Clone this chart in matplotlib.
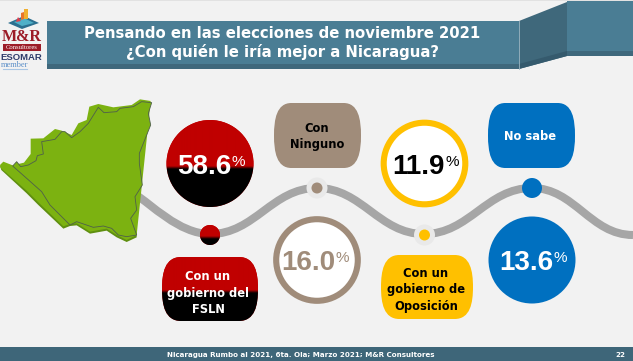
import matplotlib
matplotlib.use("Agg")
import matplotlib.pyplot as plt
import numpy as np
from matplotlib.patches import Circle, Polygon, PathPatch, Rectangle
from matplotlib.path import Path

# ---- data ----
categories = ["Con un\ngobierno del\nFSLN", "Con\nNinguno", "Con un\ngobierno de\nOposición", "No sabe"]
values = [58.6, 16.0, 11.9, 13.6]
title_lines = ["Pensando en las elecciones de noviembre 2021", "¿Con quién le iría mejor a Nicaragua?"]
footer = "Nicaragua Rumbo al 2021, 6ta. Ola; Marzo 2021; M&R Consultores"
page = "22"

BG = "#f2f2f2"
RED, BLACK, BROWN, YEL, BLUE = "#c00000", "#000000", "#a08c7a", "#ffc000", "#0070c0"
TEAL, TEAL_D, TEAL_F = "#4a7d94", "#3d6678", "#3e6679"
SANS = "Liberation Sans"
VERD = "DejaVu Sans"

fig = plt.figure(figsize=(6.33, 3.61), dpi=100, facecolor=BG)
ax = fig.add_axes([0, 0, 1, 1])
ax.set_xlim(0, 633); ax.set_ylim(361, 0); ax.axis("off")

def add(p):
    ax.add_patch(p); return p

# top hairline
add(Rectangle((0, 0), 633, 1, fc="#e2e2e2", ec="none"))

# header banner
add(Rectangle((567, 1), 66, 55, fc=TEAL, ec="none"))
add(Rectangle((567, 51), 66, 5, fc="#3f687c", ec="none"))
add(Polygon([(519, 21), (567, 2), (567, 56), (519, 69)], fc="#3f687b", ec="none"))
add(Polygon([(519, 64), (567, 51), (567, 56), (519, 69)], fc="#355a6d", ec="none"))
add(Rectangle((47, 21), 472, 48, fc=TEAL, ec="none"))
add(Rectangle((47, 64), 472, 5, fc="#3f687c", ec="none"))
ax.plot([519, 519], [21, 69], color="#9db8c4", lw=0.6)
for ln, y in zip(title_lines, [34, 52]):
    ax.text(282.5, y, ln, ha="center", va="center", color="white", family=VERD,
            weight="bold", fontsize=10.7)

# footer
add(Rectangle((0, 347), 633, 14, fc=TEAL_F, ec="none"))
ax.text(300.5, 355, footer, ha="center", va="center", color="white", family=VERD,
        weight="bold", fontsize=5.1)
ax.text(620, 355, page, ha="center", va="center", color="white", family=VERD,
        weight="bold", fontsize=5.1)

# logo
add(Polygon([(8, 23), (24, 16), (39, 23), (22, 29)], fc="#2b6f8f", ec="none"))
add(Polygon([(14, 22), (24, 18), (34, 23), (22, 26)], fc="#4fb0c8", ec="none"))
add(Polygon([(21, 20), (21, 13), (24, 12), (24, 19)], fc="#e8742c", ec="none"))
add(Polygon([(24, 19), (24, 9), (28, 9), (28, 19)], fc="#f0b030", ec="none"))
add(Polygon([(16, 22), (18, 17), (21, 21)], fc="#e23c4a", ec="none"))
ax.text(21.5, 37, "M&R", ha="center", va="center", color="#9c1c28", family="Liberation Serif",
        weight="bold", fontsize=11.5)
add(Rectangle((3, 44), 38, 7, fc="#9c1c28", ec="none"))
ax.text(22, 47.5, "Consultores", ha="center", va="center", color="white",
        family="Liberation Serif", fontsize=4.8)
ax.text(21.5, 57, "ESOMAR", ha="center", va="center", color="#2f3d6b", family=SANS,
        weight="bold", fontsize=6.8)
ax.text(15, 65, "member", ha="center", va="center", color="#5b8fc8", family="Liberation Serif",
        fontsize=6)
ax.plot([3, 27], [69, 69], color="#a9c6e4", lw=0.8)

# wave
w = [(136, 195), (210, 234), (317, 188), (424, 234), (532, 188), (633, 235)]
verts, codes = [w[0]], [Path.MOVETO]
for (x0, y0), (x1, y1) in zip(w[:-1], w[1:]):
    dx = (x1 - x0) * 0.42
    verts += [(x0 + dx, y0), (x1 - dx, y1), (x1, y1)]
    codes += [Path.CURVE4] * 3
verts[1] = (150, 203)
add(PathPatch(Path(verts, codes), fc="none", ec="#a6a6a6", lw=5.8, capstyle="butt"))

# map
def z(pts):
    return [(x / 3, 90 + y / 3) for x, y in pts]

shade = z([(0, 228), (4, 240), (80, 310), (115, 345), (190, 416), (210, 408), (230, 406),
           (270, 431), (320, 422), (350, 442), (380, 456), (410, 442), (410, 425), (300, 370), (100, 250)])
top = z([(0, 225), (10, 215), (38, 226), (72, 218), (92, 192), (92, 146), (130, 145), (165, 117),
         (185, 122), (215, 135), (235, 100), (260, 90), (268, 50), (295, 42), (340, 52), (395, 45),
         (420, 28), (452, 33), (410, 435), (380, 450), (350, 435), (320, 416), (270, 425), (230, 400),
         (210, 402), (190, 409), (115, 337), (80, 302), (2, 234)])
main = z([(38, 228), (50, 215), (62, 230), (85, 225), (108, 212), (112, 197), (130, 192), (125, 155),
          (165, 148), (185, 125), (195, 125), (215, 143), (240, 125), (265, 100), (295, 52), (312, 68),
          (350, 65), (360, 55), (400, 50), (425, 35), (455, 38), (445, 70), (452, 105), (418, 190),
          (418, 220), (427, 285), (405, 320), (410, 360), (392, 385), (410, 435), (380, 440),
          (355, 435), (335, 415), (310, 408), (280, 412), (230, 395), (210, 405), (150, 345),
          (125, 305), (80, 265)])
add(Polygon(shade, fc="#5f8f10", ec="none"))
add(Polygon(top, fc="#7cb211", ec="none"))
add(Polygon(main, fc="#7cb211", ec="#4f5f4c", lw=0.6, joinstyle="round"))

# helpers
def barrel(x0, x1, y0, y1):
    w_, h = x1 - x0, y1 - y0
    c, m = 0.2 * w_, (y0 + y1) / 2
    v = [(x0 + c, y0), (x1 - c, y0), (x1 - 0.03 * w_, y0), (x1, y0 + 0.25 * h), (x1, m),
         (x1, y0 + 0.75 * h), (x1 - 0.03 * w_, y1), (x1 - c, y1), (x0 + c, y1),
         (x0 + 0.03 * w_, y1), (x0, y0 + 0.75 * h), (x0, m),
         (x0, y0 + 0.25 * h), (x0 + 0.03 * w_, y0), (x0 + c, y0), (x0 + c, y0)]
    cd = [Path.MOVETO, Path.LINETO] + [Path.CURVE4] * 6 + [Path.LINETO] + [Path.CURVE4] * 6 + [Path.CLOSEPOLY]
    return Path(v, cd)

def two_tone(clip, y_split, x0, x1, y0, y1):
    # red above, black below, with a short soft edge
    grad = np.zeros((int(y1 - y0) * 2, 1, 3))
    ys = np.linspace(y0, y1, grad.shape[0])
    t = np.clip((ys - y_split) / 3.0, 0, 1)[:, None]
    red = np.array([0xc0, 0, 0]) / 255
    grad[:, 0, :] = red * (1 - t)
    im = ax.imshow(grad, extent=(x0, x1, y1, y0), aspect="auto", zorder=2)
    im.set_clip_path(clip)

def pct(x_num_right, y, val, color, size=20, psize=11):
    ax.text(x_num_right, y, f"{val:.1f}", ha="right", va="center_baseline", color=color, family=SANS,
            weight="bold", fontsize=size, zorder=5)
    ax.text(x_num_right + 0.5, y - 3.5, "%", ha="left", va="center_baseline", color=color, family=SANS,
            fontsize=psize, zorder=5)

# big circles
c1 = add(Circle((210, 163.5), 43.5, fc=RED, ec="none"))
two_tone(c1, 166, 166, 254, 120, 207)
c2 = add(Circle((317, 260), 40.8, fc="white", ec=BROWN, lw=4.4))
c3 = add(Circle((424.5, 163.5), 40.8, fc="white", ec=YEL, lw=4.4))
c4 = add(Circle((532, 260), 43.5, fc=BLUE, ec="none"))
ax.set_xlim(0, 633); ax.set_ylim(361, 0)

pct(231.5, 164, values[0], "white")
pct(335, 260, values[1], BROWN)
pct(444.5, 164, values[2], BLACK)
pct(553.5, 260, values[3], "white")

# nodes
n1 = add(Circle((210, 235), 10, fc=RED, ec="none"))
two_tone(n1, 236, 200, 220, 225, 245)
ax.set_xlim(0, 633); ax.set_ylim(361, 0)
add(Circle((317, 188), 10.5, fc="#e9e9e9", ec="none"))
add(Circle((317, 188), 5.5, fc=BROWN, ec="none"))
add(Circle((424.5, 235), 10.5, fc="#e9e9e9", ec="none"))
add(Circle((424.5, 235), 5.5, fc=YEL, ec="none"))
add(Circle((532, 188), 10, fc=BLUE, ec="none"))

# labels
p1 = add(PathPatch(barrel(162, 258, 257, 321), fc=RED, ec="none"))
two_tone(p1, 290, 162, 258, 257, 321)
ax.set_xlim(0, 633); ax.set_ylim(361, 0)
add(PathPatch(barrel(274, 361, 103, 168), fc=BROWN, ec="none"))
add(PathPatch(barrel(381, 473, 255, 319), fc=YEL, ec="none"))
add(PathPatch(barrel(488, 575, 103, 168), fc=BLUE, ec="none"))

label_fs = 8.3
def lbl(x, y, s, color):
    ax.text(x, y, s, ha="center", va="center", color=color, family=VERD, weight="bold",
            fontsize=label_fs, linespacing=1.33, zorder=5)
lbl(208, 293, categories[0], "white")
lbl(317, 136.5, categories[1], BLACK)
lbl(426, 290, categories[2], BLACK)
ax.text(530, 137, categories[3], ha="center", va="center", color="white", family=VERD,
        weight="bold", fontsize=label_fs, zorder=5)

fig.savefig("out.png", dpi=100, facecolor=BG)
